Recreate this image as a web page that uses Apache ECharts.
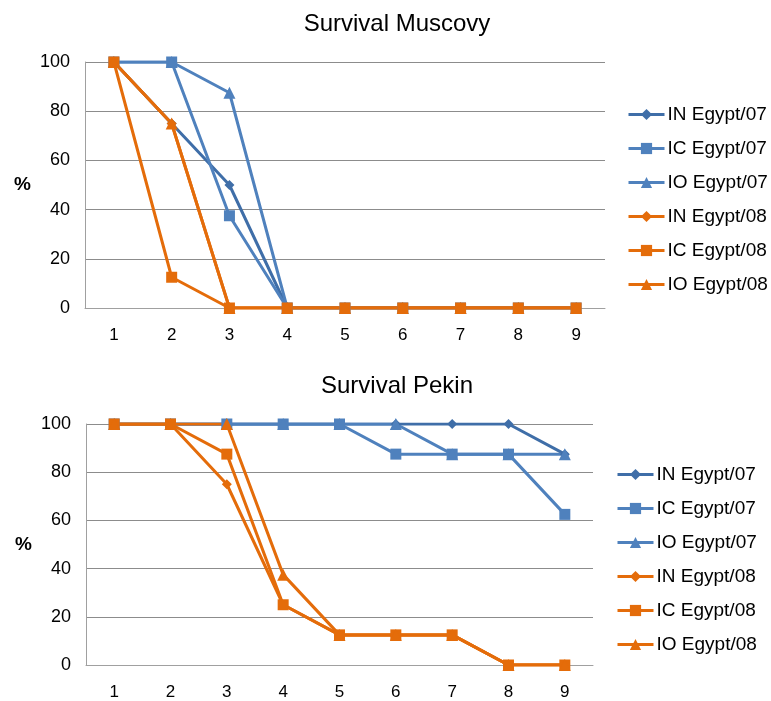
<!DOCTYPE html>
<html>
<head>
<meta charset="utf-8">
<script src="https://cdn.jsdelivr.net/npm/echarts@6/dist/echarts.min.js"></script>
<style>
html, body { margin: 0; padding: 0; background: #fff; }
#main { width: 771px; height: 701px; }
</style>
</head>
<body>
<div id="main"></div>
<script>
// days
const days = ['1', '2', '3', '4', '5', '6', '7', '8', '9']
const seriesNames = ['IN Egypt/07', 'IC Egypt/07', 'IO Egypt/07', 'IN Egypt/08', 'IC Egypt/08', 'IO Egypt/08']

// Survival Muscovy (%)
const muscovyIN07 = [100, 75, 50, 0, 0, 0, 0, 0, 0]
const muscovyIC07 = [100, 100, 37.5, 0, 0, 0, 0, 0, 0]
const muscovyIO07 = [100, 100, 87.5, 0, 0, 0, 0, 0, 0]
const muscovyIN08 = [100, 75, 0, 0, 0, 0, 0, 0, 0]
const muscovyIC08 = [100, 12.5, 0, 0, 0, 0, 0, 0, 0]
const muscovyIO08 = [100, 75, 0, 0, 0, 0, 0, 0, 0]

// Survival Pekin (%)
const pekinIN07 = [100, 100, 100, 100, 100, 100, 100, 100, 87.5]
const pekinIC07 = [100, 100, 100, 100, 100, 87.5, 87.5, 87.5, 62.5]
const pekinIO07 = [100, 100, 100, 100, 100, 100, 87.5, 87.5, 87.5]
const pekinIN08 = [100, 100, 75, 25, 12.5, 12.5, 12.5, 0, 0]
const pekinIC08 = [100, 100, 87.5, 25, 12.5, 12.5, 12.5, 0, 0]
const pekinIO08 = [100, 100, 100, 37.5, 12.5, 12.5, 12.5, 0, 0]

const yTicks = [0, 20, 40, 60, 80, 100]

const colors = ['#3f6ea8', '#4f81bd', '#4f81bd', '#e46c0a', '#e46c0a', '#e46c0a']
const symbols = ['diamond', 'rect', 'triangle', 'diamond', 'rect', 'triangle']
const symbolSizes = [10, 11, 12, 10, 11, 12]

const font = 'Liberation Sans, Arial, sans-serif'

const makeSeries = (idx, groups) => {
  return groups.map((data, i) => ({
    name: seriesNames[i],
    type: 'line',
    xAxisIndex: idx,
    yAxisIndex: idx,
    data: data,
    symbol: symbols[i],
    symbolSize: symbolSizes[i],
    lineStyle: { color: colors[i], width: 3 },
    itemStyle: { color: colors[i] },
    emphasis: { disabled: true }
  }))
}

const xAxisCfg = (idx) => ({
  type: 'category',
  gridIndex: idx,
  data: days,
  boundaryGap: true,
  axisLine: { lineStyle: { color: '#a0a0a0', width: 1 } },
  axisTick: { show: false },
  axisLabel: { color: '#000', fontSize: 17, fontFamily: font, margin: 19 }
})

const yAxisCfg = (idx) => ({
  type: 'value',
  gridIndex: idx,
  min: yTicks[0],
  max: yTicks[yTicks.length - 1],
  interval: yTicks[1] - yTicks[0],
  name: '%',
  nameLocation: 'middle',
  nameRotate: 0,
  nameGap: 54,
  nameTextStyle: { color: '#000', fontSize: 19, fontWeight: 'bold', fontFamily: font },
  axisLine: { show: true, lineStyle: { color: '#a0a0a0', width: 1 } },
  axisTick: { show: false },
  splitLine: { lineStyle: { color: '#8c8c8c', width: 1 } },
  axisLabel: { color: '#000', fontSize: 18, fontFamily: font, margin: 15 }
})

const legendCfg = (left, top) => ({
  orient: 'vertical',
  left: left,
  top: top,
  padding: 0,
  data: seriesNames,
  itemWidth: 36,
  itemHeight: 14,
  itemGap: 15,
  selectedMode: false,
  lineStyle: { width: 3 },
  textStyle: { color: '#000', fontSize: 19, fontFamily: font, padding: [0, 0, 0, -2] }
})

const option = {
  animation: false,
  backgroundColor: '#fff',
  title: [
    { text: 'Survival Muscovy', left: 392, top: 7, textAlign: 'center',
      textStyle: { fontSize: 24, fontWeight: 'normal', color: '#000', fontFamily: font } },
    { text: 'Survival Pekin', left: 392, top: 369, textAlign: 'center',
      textStyle: { fontSize: 24, fontWeight: 'normal', color: '#000', fontFamily: font } }
  ],
  legend: [legendCfg(627, 105), legendCfg(616, 465)],
  grid: [
    { left: 85, right: 166, top: 62, height: 246 },
    { left: 86, right: 178, top: 424, height: 243 }
  ],
  xAxis: [xAxisCfg(0), xAxisCfg(1)],
  yAxis: [yAxisCfg(0), yAxisCfg(1)],
  series: [
    ...makeSeries(0, [muscovyIN07, muscovyIC07, muscovyIO07, muscovyIN08, muscovyIC08, muscovyIO08]),
    ...makeSeries(1, [pekinIN07, pekinIC07, pekinIO07, pekinIN08, pekinIC08, pekinIO08])
  ]
}

const chart = echarts.init(document.getElementById('main'))
chart.setOption(option)
</script>
</body>
</html>
